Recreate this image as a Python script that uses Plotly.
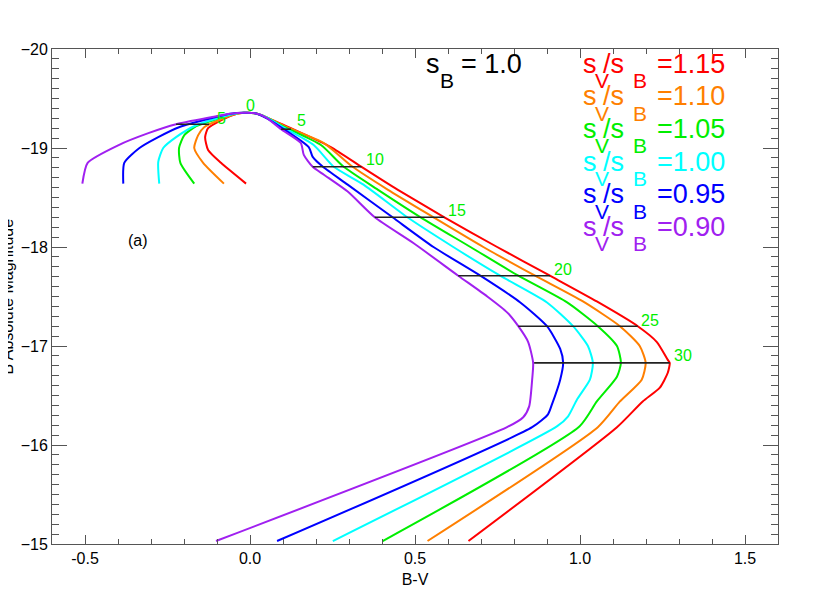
import plotly.graph_objects as go

# stretch ratios s_V/s_B (s_B = 1.0)
ratios = ['1.15', '1.10', '1.05', '1.00', '0.95', '0.90']
colors = ['#ff0000', '#ff7f00', '#00ee00', '#00ffff', '#0000ff', '#a020f0']

# B-V and M_B along each track (rise, peak, decline)
bv_115 = [-0.012, -0.088, -0.127, -0.136, -0.127, -0.082, -0.045, -0.018, 0.015, 0.05, 0.124, 0.245, 0.338,
          0.447, 0.589, 0.749, 0.909, 1.051, 1.175, 1.233, 1.266, 1.272, 1.266, 1.242, 1.190, 1.112, 0.662]
mag_115 = [-18.64, -18.85, -18.98, -19.11, -19.20, -19.29, -19.34, -19.355, -19.35, -19.31, -19.20, -19.01, -18.81,
           -18.58, -18.30, -18.00, -17.71, -17.45, -17.20, -17.04, -16.86, -16.83, -16.73, -16.58, -16.44, -16.18, -15.03]

bv_110 = [-0.079, -0.142, -0.169, -0.157, -0.139, -0.088, -0.045, -0.018, 0.015, 0.05, 0.112, 0.224, 0.311,
          0.417, 0.556, 0.707, 0.864, 1.009, 1.121, 1.181, 1.199, 1.187, 1.121, 1.054, 0.538]
mag_110 = [-18.64, -18.85, -19.00, -19.13, -19.21, -19.29, -19.34, -19.355, -19.35, -19.31, -19.21, -19.05, -18.81,
           -18.58, -18.30, -18.00, -17.71, -17.45, -17.20, -17.00, -16.83, -16.66, -16.44, -16.18, -15.03]

bv_105 = [-0.169, -0.211, -0.215, -0.199, -0.163, -0.103, -0.05, -0.018, 0.015, 0.05, 0.106, 0.215, 0.284,
          0.387, 0.517, 0.668, 0.813, 0.961, 1.054, 1.112, 1.124, 1.112, 1.051, 0.999, 0.402]
mag_105 = [-18.64, -18.85, -19.00, -19.13, -19.22, -19.29, -19.345, -19.355, -19.35, -19.31, -19.21, -19.03, -18.81,
           -18.58, -18.30, -18.00, -17.71, -17.44, -17.20, -17.00, -16.83, -16.69, -16.44, -16.19, -15.03]

bv_100 = [-0.275, -0.278, -0.263, -0.224, -0.163, -0.088, -0.045, -0.018, 0.015, 0.05, 0.100, 0.193, 0.254,
          0.344, 0.477, 0.616, 0.758, 0.900, 0.979, 1.024, 1.039, 1.030, 0.991, 0.964, 0.931, 0.251]
mag_100 = [-18.64, -18.86, -19.00, -19.11, -19.23, -19.31, -19.345, -19.355, -19.35, -19.31, -19.21, -19.03, -18.81,
           -18.63, -18.30, -18.00, -17.71, -17.44, -17.20, -17.00, -16.83, -16.66, -16.46, -16.29, -16.19, -15.03]

bv_095 = [-0.384, -0.381, -0.335, -0.278, -0.215, -0.118, -0.06, -0.018, 0.015, 0.045, 0.094, 0.178, 0.190, 0.221,
          0.296, 0.432, 0.556, 0.698, 0.819, 0.900, 0.940, 0.949, 0.940, 0.915, 0.903, 0.855, 0.082]
mag_095 = [-18.64, -18.85, -19.00, -19.11, -19.21, -19.30, -19.345, -19.355, -19.35, -19.31, -19.21, -19.01, -18.91, -18.81,
           -18.63, -18.30, -18.00, -17.71, -17.44, -17.20, -16.97, -16.83, -16.66, -16.41, -16.31, -16.18, -15.03]

bv_090 = [-0.508, -0.492, -0.398, -0.308, -0.224, -0.118, -0.06, -0.018, 0.015, 0.048, 0.094, 0.154, 0.163, 0.190,
          0.224, 0.296, 0.378, 0.495, 0.631, 0.719, 0.779, 0.813, 0.843, 0.858, 0.855, 0.846, 0.828, 0.779, -0.103]
mag_090 = [-18.64, -18.85, -19.03, -19.15, -19.24, -19.31, -19.345, -19.355, -19.35, -19.31, -19.19, -19.05, -18.93, -18.81,
           -18.73, -18.56, -18.30, -18.04, -17.71, -17.50, -17.34, -17.20, -17.04, -16.83, -16.66, -16.39, -16.28, -16.18, -15.03]

tracks_bv = [bv_115, bv_110, bv_105, bv_100, bv_095, bv_090]
tracks_mag = [mag_115, mag_110, mag_105, mag_100, mag_095, mag_090]

# equal-epoch lines (days from B max)
day_mag = [-19.24, -19.19, -18.81, -18.30, -17.71, -17.20, -16.83]
day_bv_lo = [-0.224, 0.094, 0.190, 0.378, 0.631, 0.813, 0.861]
day_bv_hi = [-0.124, 0.124, 0.338, 0.589, 0.909, 1.175, 1.272]
day_text = ['5', '0', '5', '10', '15', '20', '25', '30']
day_lab_bv = [-0.105, -0.0, 0.136, 0.345, 0.595, 0.915, 1.180, 1.278]
day_lab_mag = [-19.30, -19.43, -19.28, -18.88, -18.37, -17.77, -17.26, -16.90]

font = 'Liberation Sans, Arial, Helvetica, sans-serif'

# plot box in page pixels (the page body adds an 8 px offset to the figure)
BOX_L, BOX_R, BOX_T, BOX_B = 52, 778, 49, 544
OFF = 8


def px(x):
    return (x - BOX_L) / (BOX_R - BOX_L)


def py(y):
    return (BOX_B - y) / (BOX_B - BOX_T)


fig = go.Figure()
for bv, mag, c in zip(tracks_bv, tracks_mag, colors):
    fig.add_trace(go.Scatter(x=bv, y=mag, mode='lines', line=dict(color=c, width=2, shape='spline', smoothing=0.6),
                             showlegend=False))

for m, a, b in zip(day_mag, day_bv_lo, day_bv_hi):
    fig.add_trace(go.Scatter(x=[a, b], y=[m, m], mode='lines', line=dict(color='#222222', width=1.6),
                             showlegend=False))

for t, x, y in zip(day_text, day_lab_bv, day_lab_mag):
    fig.add_annotation(x=x, y=y, text=t, showarrow=False, xanchor='center' if t == '0' else 'left',
                       font=dict(color='#00ee00', size=16, family=font))

fig.add_annotation(x=-0.34, y=-18.07, text='(a)', showarrow=False, font=dict(size=16, color='black', family=font))


def label(x, y, text, size, color):
    fig.add_annotation(xref='paper', yref='paper', x=px(x), y=py(y), text=text, showarrow=False,
                       xanchor='left', yanchor='middle', font=dict(size=size, color=color, family=font))


MAIN, SUB, SUB_DY = 27, 21, 17

# s_B = 1.0
label(424, 63.7, 's', MAIN, 'black')
label(438, 63.7 + SUB_DY, 'B', SUB, 'black')
label(459, 63.7, '= 1.0', MAIN, 'black')

# s_V/s_B = ... for each track
for i, (r, c) in enumerate(zip(ratios, colors)):
    yc = 63.7 + 32.6 * i
    label(581, yc, 's', MAIN, c)
    label(593, yc + SUB_DY, 'V', SUB, c)
    label(601, yc, '/s', MAIN, c)
    label(631, yc + SUB_DY, 'B', SUB, c)
    label(655, yc, '=' + r, MAIN, c)

fig.add_annotation(xref='paper', yref='paper', x=px(7), y=0.5, text='B Absolute Magnitude', textangle=-90,
                   xanchor='center', showarrow=False, font=dict(size=16, color='black', family=font))

axis_common = dict(showline=True, linecolor='#555555', linewidth=1, mirror='allticks', ticks='inside',
                   tickcolor='#555555', showgrid=False, zeroline=False,
                   tickfont=dict(size=16, color='black', family=font))

fig.update_xaxes(range=[-0.6, 1.6], tickvals=[-0.5, 0.0, 0.5, 1.0, 1.5],
                 ticktext=['-0.5', '0.0', '0.5', '1.0', '1.5'], ticklen=9,
                 minor=dict(ticks='inside', dtick=0.1, tick0=0, ticklen=5, tickcolor='#555555'),
                 title=dict(text='B-V', font=dict(size=16, color='black', family=font), standoff=7),
                 **axis_common)
fig.update_yaxes(range=[-15, -20], tickvals=[-20, -19, -18, -17, -16, -15], ticklen=15,
                 minor=dict(ticks='inside', dtick=0.1, tick0=0, ticklen=7, tickcolor='#555555'),
                 **axis_common)

fig.update_layout(width=830, height=593,
                  margin=dict(l=BOX_L - OFF, r=830 - (BOX_R - OFF), t=BOX_T - OFF, b=593 - (BOX_B - OFF)),
                  plot_bgcolor='white', paper_bgcolor='white', font=dict(family=font))

fig.write_html('out.html')
